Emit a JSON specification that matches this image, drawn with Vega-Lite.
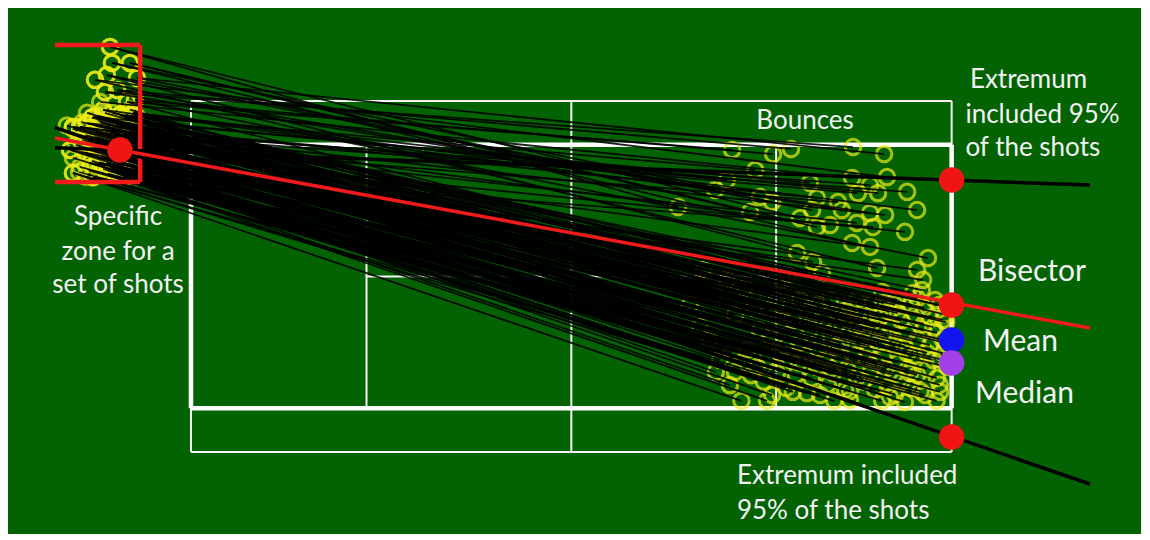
{
  "$schema": "https://vega.github.io/schema/vega-lite/v6.json",
  "width": 1150,
  "height": 540,
  "autosize": {"type": "fit", "contains": "padding"},
  "padding": 0,
  "background": "#ffffff",
  "config": {"view": {"stroke": null}},
  "datasets": {
    "bg": [{"x": -5.72, "x2": 29.69, "y": -2.56, "y2": 13.875}],
    "courtThin": [
      {"x": 0, "y": 10.97, "x2": 23.77, "y2": 10.97},
      {"x": 0, "y": 0, "x2": 23.77, "y2": 0},
      {"x": 0, "y": 0, "x2": 0, "y2": 10.97},
      {"x": 23.77, "y": 0, "x2": 23.77, "y2": 10.97},
      {"x": 11.885, "y": 0, "x2": 11.885, "y2": 10.97},
      {"x": 5.485, "y": 1.37, "x2": 5.485, "y2": 9.6},
      {"x": 18.285, "y": 1.37, "x2": 18.285, "y2": 9.6},
      {"x": 5.485, "y": 5.485, "x2": 18.285, "y2": 5.485}
    ],
    "courtThick": [
      {"x": 0, "y": 9.6, "x2": 23.77, "y2": 9.6},
      {"x": 0, "y": 1.37, "x2": 23.77, "y2": 1.37},
      {"x": 0, "y": 1.37, "x2": 0, "y2": 9.6},
      {"x": 23.77, "y": 1.37, "x2": 23.77, "y2": 9.6}
    ],
    "shots": [
      {"x0": -2.0, "y0": 10.94, "x1": 16.91, "y1": 9.44},
      {"x0": -1.75, "y0": 11.0, "x1": 18.19, "y1": 9.31},
      {"x0": -2.31, "y0": 11.31, "x1": 18.75, "y1": 9.47},
      {"x0": -2.69, "y0": 11.25, "x1": 20.69, "y1": 9.53},
      {"x0": -1.69, "y0": 11.69, "x1": 21.66, "y1": 9.31},
      {"x0": -2.22, "y0": 10.53, "x1": 17.63, "y1": 8.81},
      {"x0": -1.8, "y0": 10.6, "x1": 16.75, "y1": 8.5},
      {"x0": -2.75, "y0": 10.69, "x1": 16.38, "y1": 8.19},
      {"x0": -2.53, "y0": 12.66, "x1": 15.22, "y1": 7.66},
      {"x0": -2.47, "y0": 12.16, "x1": 17.78, "y1": 7.97},
      {"x0": -1.91, "y0": 12.16, "x1": 17.47, "y1": 7.5},
      {"x0": -2.63, "y0": 11.78, "x1": 18.16, "y1": 7.81},
      {"x0": -1.7, "y0": 10.3, "x1": 19.34, "y1": 8.41},
      {"x0": -2.84, "y0": 10.94, "x1": 20.66, "y1": 8.56},
      {"x0": -3.0, "y0": 11.63, "x1": 21.75, "y1": 8.59},
      {"x0": -2.2, "y0": 10.0, "x1": 21.22, "y1": 8.34},
      {"x0": -1.9, "y0": 9.9, "x1": 22.38, "y1": 8.13},
      {"x0": -2.63, "y0": 10.16, "x1": 20.84, "y1": 8.09},
      {"x0": -3.06, "y0": 10.47, "x1": 21.47, "y1": 8.09},
      {"x0": -3.25, "y0": 10.28, "x1": 19.56, "y1": 7.94},
      {"x0": -2.0, "y0": 9.6, "x1": 20.22, "y1": 7.81},
      {"x0": -1.69, "y0": 11.69, "x1": 19.41, "y1": 7.56},
      {"x0": -2.31, "y0": 11.31, "x1": 20.34, "y1": 7.56},
      {"x0": -2.53, "y0": 12.66, "x1": 19.03, "y1": 7.31},
      {"x0": -1.91, "y0": 12.16, "x1": 19.56, "y1": 7.03},
      {"x0": -3.47, "y0": 10.16, "x1": 19.97, "y1": 7.09},
      {"x0": -2.4, "y0": 9.7, "x1": 20.81, "y1": 7.16},
      {"x0": -2.69, "y0": 11.25, "x1": 21.22, "y1": 7.47},
      {"x0": -3.69, "y0": 10.16, "x1": 21.69, "y1": 7.41},
      {"x0": -1.8, "y0": 10.6, "x1": 22.69, "y1": 7.56},
      {"x0": -2.44, "y0": 8.81, "x1": 21.31, "y1": 7.03},
      {"x0": -2.94, "y0": 9.44, "x1": 22.31, "y1": 6.88},
      {"x0": -2.47, "y0": 12.16, "x1": 20.66, "y1": 6.53},
      {"x0": -3.38, "y0": 9.66, "x1": 21.22, "y1": 6.41},
      {"x0": -2.63, "y0": 11.78, "x1": 18.94, "y1": 6.22},
      {"x0": -1.75, "y0": 9.2, "x1": 19.44, "y1": 5.94},
      {"x0": -3.0, "y0": 11.63, "x1": 21.44, "y1": 5.75},
      {"x0": -2.13, "y0": 8.59, "x1": 19.72, "y1": 5.59},
      {"x0": -1.75, "y0": 11.0, "x1": 23.03, "y1": 6.06},
      {"x0": -2.63, "y0": 9.03, "x1": 22.69, "y1": 5.69},
      {"x0": -3.16, "y0": 9.03, "x1": 22.88, "y1": 5.38},
      {"x0": -2.0, "y0": 10.94, "x1": 18.66, "y1": 5.53},
      {"x0": -3.78, "y0": 9.44, "x1": 16.0, "y1": 5.69},
      {"x0": -2.75, "y0": 10.69, "x1": 16.75, "y1": 5.38},
      {"x0": -3.06, "y0": 8.59, "x1": 17.31, "y1": 5.13},
      {"x0": -2.22, "y0": 10.53, "x1": 18.47, "y1": 5.38},
      {"x0": -2.13, "y0": 8.59, "x1": 16.84, "y1": 2.09},
      {"x0": -1.65, "y0": 8.6, "x1": 18.16, "y1": 1.78},
      {"x0": -2.44, "y0": 8.81, "x1": 18.81, "y1": 1.88},
      {"x0": -1.8, "y0": 8.8, "x1": 19.25, "y1": 1.84},
      {"x0": -3.69, "y0": 8.72, "x1": 20.59, "y1": 1.63},
      {"x0": -2.63, "y0": 9.03, "x1": 21.84, "y1": 1.72},
      {"x0": -1.75, "y0": 9.2, "x1": 22.31, "y1": 1.56},
      {"x0": -3.06, "y0": 8.59, "x1": 21.78, "y1": 2.03},
      {"x0": -2.94, "y0": 9.44, "x1": 22.69, "y1": 2.41},
      {"x0": -2.0, "y0": 9.1, "x1": 23.31, "y1": 2.31},
      {"x0": -3.38, "y0": 9.66, "x1": 23.19, "y1": 2.88},
      {"x0": -2.4, "y0": 9.7, "x1": 23.31, "y1": 3.72},
      {"x0": -1.9, "y0": 9.9, "x1": 23.5, "y1": 4.13},
      {"x0": -2.2, "y0": 10.0, "x1": 22.88, "y1": 3.81},
      {"x0": -2.63, "y0": 9.6, "x1": 22.38, "y1": 3.72},
      {"x0": -3.25, "y0": 10.28, "x1": 22.09, "y1": 4.34},
      {"x0": -1.7, "y0": 10.3, "x1": 22.84, "y1": 5.06},
      {"x0": -3.06, "y0": 10.47, "x1": 22.56, "y1": 4.97},
      {"x0": -2.22, "y0": 10.53, "x1": 22.06, "y1": 4.75},
      {"x0": -1.8, "y0": 10.6, "x1": 21.31, "y1": 4.66},
      {"x0": -2.75, "y0": 10.4, "x1": 20.81, "y1": 4.75},
      {"x0": -2.84, "y0": 10.2, "x1": 19.97, "y1": 4.75},
      {"x0": -2.0, "y0": 10.1, "x1": 21.0, "y1": 4.22},
      {"x0": -1.75, "y0": 9.8, "x1": 21.63, "y1": 3.72},
      {"x0": -2.69, "y0": 9.9, "x1": 20.59, "y1": 3.72},
      {"x0": -2.31, "y0": 9.5, "x1": 20.19, "y1": 3.28},
      {"x0": -3.0, "y0": 9.7, "x1": 21.13, "y1": 3.09},
      {"x0": -1.69, "y0": 9.3, "x1": 21.63, "y1": 2.97},
      {"x0": -2.63, "y0": 9.4, "x1": 22.38, "y1": 3.09},
      {"x0": -2.47, "y0": 9.1, "x1": 22.47, "y1": 2.47},
      {"x0": -1.91, "y0": 9.0, "x1": 21.22, "y1": 2.47},
      {"x0": -2.53, "y0": 8.9, "x1": 20.81, "y1": 2.34},
      {"x0": -3.16, "y0": 9.03, "x1": 20.06, "y1": 2.47},
      {"x0": -3.47, "y0": 8.91, "x1": 19.56, "y1": 2.66},
      {"x0": -2.94, "y0": 9.44, "x1": 18.72, "y1": 2.88},
      {"x0": -3.69, "y0": 9.19, "x1": 18.31, "y1": 2.47},
      {"x0": -2.63, "y0": 9.03, "x1": 17.69, "y1": 2.66},
      {"x0": -3.78, "y0": 9.44, "x1": 16.53, "y1": 2.88},
      {"x0": -3.47, "y0": 10.16, "x1": 18.81, "y1": 4.13},
      {"x0": -2.63, "y0": 10.16, "x1": 19.34, "y1": 3.81},
      {"x0": -3.69, "y0": 10.16, "x1": 19.75, "y1": 4.13},
      {"x0": -3.06, "y0": 10.47, "x1": 20.5, "y1": 4.22},
      {"x0": -2.0, "y0": 10.3, "x1": 21.63, "y1": 4.66},
      {"x0": -2.22, "y0": 10.53, "x1": 23.63, "y1": 4.53},
      {"x0": -1.8, "y0": 9.5, "x1": 23.5, "y1": 3.09},
      {"x0": -2.44, "y0": 8.81, "x1": 23.63, "y1": 2.66},
      {"x0": -2.13, "y0": 9.6, "x1": 23.09, "y1": 3.34},
      {"x0": -1.65, "y0": 8.6, "x1": 22.94, "y1": 1.78},
      {"x0": -1.8, "y0": 8.8, "x1": 23.41, "y1": 1.88},
      {"x0": -2.75, "y0": 9.2, "x1": 21.97, "y1": 2.41},
      {"x0": -3.06, "y0": 8.59, "x1": 21.38, "y1": 1.94},
      {"x0": -2.31, "y0": 8.7, "x1": 20.44, "y1": 1.94},
      {"x0": -2.63, "y0": 8.65, "x1": 19.66, "y1": 1.78},
      {"x0": -2.0, "y0": 9.8, "x1": 20.91, "y1": 3.5},
      {"x0": -1.75, "y0": 9.6, "x1": 22.0, "y1": 3.34},
      {"x0": -2.84, "y0": 10.3, "x1": 22.63, "y1": 4.28},
      {"x0": -1.7, "y0": 10.5, "x1": 23.25, "y1": 4.75},
      {"x0": -1.9, "y0": 10.0, "x1": 21.53, "y1": 4.22},
      {"x0": -2.2, "y0": 9.3, "x1": 20.28, "y1": 2.88},
      {"x0": -3.0, "y0": 10.0, "x1": 17.78, "y1": 3.81},
      {"x0": -2.47, "y0": 10.4, "x1": 17.0, "y1": 4.28},
      {"x0": -2.69, "y0": 10.6, "x1": 18.09, "y1": 4.44},
      {"x0": -1.91, "y0": 10.7, "x1": 19.03, "y1": 4.75},
      {"x0": -3.88, "y0": 10.2, "x1": 15.59, "y1": 4.59},
      {"x0": -3.25, "y0": 10.6, "x1": 16.38, "y1": 4.91},
      {"x0": -2.31, "y0": 10.1, "x1": 23.6, "y1": 4.05},
      {"x0": -3.69, "y0": 8.72, "x1": 17.2, "y1": 1.6},
      {"x0": -2.5, "y0": 10.0, "x1": 22.2, "y1": 4.1},
      {"x0": -1.8, "y0": 9.9, "x1": 21.9, "y1": 3.9},
      {"x0": -2.9, "y0": 9.8, "x1": 22.7, "y1": 3.5},
      {"x0": -2.1, "y0": 9.2, "x1": 23.0, "y1": 2.6},
      {"x0": -3.3, "y0": 9.3, "x1": 22.1, "y1": 2.8},
      {"x0": -2.4, "y0": 9.6, "x1": 21.5, "y1": 3.4},
      {"x0": -1.9, "y0": 9.4, "x1": 20.7, "y1": 3.0},
      {"x0": -3.1, "y0": 9.8, "x1": 20.0, "y1": 3.6},
      {"x0": -2.2, "y0": 9.5, "x1": 19.6, "y1": 3.2},
      {"x0": -2.8, "y0": 9.7, "x1": 19.0, "y1": 3.4},
      {"x0": -3.4, "y0": 9.5, "x1": 18.4, "y1": 3.1},
      {"x0": -2.6, "y0": 8.8, "x1": 17.9, "y1": 2.2},
      {"x0": -2.0, "y0": 8.75, "x1": 18.6, "y1": 2.0},
      {"x0": -1.7, "y0": 8.9, "x1": 19.9, "y1": 2.1},
      {"x0": -3.2, "y0": 8.8, "x1": 21.0, "y1": 2.2},
      {"x0": -2.3, "y0": 8.95, "x1": 22.5, "y1": 2.0},
      {"x0": -2.9, "y0": 9.05, "x1": 23.4, "y1": 2.1},
      {"x0": -3.5, "y0": 9.9, "x1": 23.5, "y1": 3.5},
      {"x0": -2.0, "y0": 10.4, "x1": 22.9, "y1": 4.5},
      {"x0": -3.0, "y0": 10.2, "x1": 21.2, "y1": 4.1},
      {"x0": -1.8, "y0": 10.1, "x1": 20.2, "y1": 4.0},
      {"x0": -2.6, "y0": 10.4, "x1": 19.3, "y1": 4.4},
      {"x0": -2.2, "y0": 9.9, "x1": 18.1, "y1": 3.6},
      {"x0": -3.6, "y0": 9.6, "x1": 17.4, "y1": 3.2},
      {"x0": -2.9, "y0": 9.7, "x1": 16.2, "y1": 3.5},
      {"x0": -3.0, "y0": 9.0, "x1": 17.0, "y1": 2.5},
      {"x0": -2.5, "y0": 9.15, "x1": 20.5, "y1": 2.6},
      {"x0": -1.8, "y0": 9.2, "x1": 21.7, "y1": 2.6},
      {"x0": -2.7, "y0": 9.55, "x1": 22.3, "y1": 3.3},
      {"x0": -2.4, "y0": 9.95, "x1": 23.2, "y1": 3.9},
      {"x0": -3.3, "y0": 9.9, "x1": 21.0, "y1": 3.8},
      {"x0": -2.0, "y0": 9.35, "x1": 19.8, "y1": 2.9},
      {"x0": -3.1, "y0": 9.1, "x1": 18.9, "y1": 2.4},
      {"x0": -2.6, "y0": 8.7, "x1": 22.8, "y1": 1.9},
      {"x0": -2.0, "y0": 8.6, "x1": 21.6, "y1": 1.6},
      {"x0": -3.3, "y0": 8.6, "x1": 20.1, "y1": 1.6},
      {"x0": -2.9, "y0": 10.5, "x1": 22.0, "y1": 4.6},
      {"x0": -3.4, "y0": 10.3, "x1": 23.4, "y1": 4.6},
      {"x0": -2.1, "y0": 10.45, "x1": 20.6, "y1": 4.5},
      {"x0": -3.7, "y0": 10.1, "x1": 18.5, "y1": 4.1},
      {"x0": -2.3, "y0": 10.3, "x1": 23.55, "y1": 4.3},
      {"x0": -1.9, "y0": 10.15, "x1": 23.1, "y1": 4.2},
      {"x0": -2.6, "y0": 10.35, "x1": 22.5, "y1": 4.6},
      {"x0": -3.2, "y0": 10.1, "x1": 21.8, "y1": 4.4},
      {"x0": -2.1, "y0": 9.95, "x1": 21.4, "y1": 3.9},
      {"x0": -2.7, "y0": 10.05, "x1": 20.9, "y1": 4.0},
      {"x0": -1.85, "y0": 9.6, "x1": 20.3, "y1": 3.4},
      {"x0": -3.0, "y0": 9.85, "x1": 19.9, "y1": 3.9},
      {"x0": -2.4, "y0": 9.3, "x1": 19.2, "y1": 3.0},
      {"x0": -1.9, "y0": 9.55, "x1": 18.6, "y1": 3.3},
      {"x0": -2.8, "y0": 9.25, "x1": 18.0, "y1": 2.9},
      {"x0": -2.2, "y0": 8.9, "x1": 17.5, "y1": 2.4},
      {"x0": -3.3, "y0": 9.35, "x1": 16.9, "y1": 3.1},
      {"x0": -2.5, "y0": 8.95, "x1": 16.4, "y1": 2.5},
      {"x0": -2.0, "y0": 9.8, "x1": 15.9, "y1": 3.9},
      {"x0": -2.2, "y0": 9.45, "x1": 22.6, "y1": 3.0},
      {"x0": -3.0, "y0": 9.5, "x1": 23.0, "y1": 3.1},
      {"x0": -1.75, "y0": 9.65, "x1": 23.6, "y1": 3.4},
      {"x0": -2.45, "y0": 8.85, "x1": 22.2, "y1": 2.2},
      {"x0": -2.9, "y0": 9.2, "x1": 21.4, "y1": 2.8},
      {"x0": -1.95, "y0": 8.7, "x1": 20.6, "y1": 1.9},
      {"x0": -2.75, "y0": 8.85, "x1": 19.4, "y1": 2.3},
      {"x0": -2.35, "y0": 8.6, "x1": 18.0, "y1": 1.6},
      {"x0": -2.15, "y0": 8.65, "x1": 23.3, "y1": 1.6},
      {"x0": -3.5, "y0": 8.75, "x1": 22.0, "y1": 1.8},
      {"x0": -2.05, "y0": 9.25, "x1": 21.1, "y1": 2.9},
      {"x0": -2.85, "y0": 9.05, "x1": 20.0, "y1": 2.6},
      {"x0": -1.8, "y0": 9.15, "x1": 19.0, "y1": 2.8},
      {"x0": -3.4, "y0": 9.75, "x1": 21.8, "y1": 3.6},
      {"x0": -2.55, "y0": 9.95, "x1": 22.9, "y1": 4.0},
      {"x0": -2.35, "y0": 10.25, "x1": 20.4, "y1": 4.4},
      {"x0": -3.1, "y0": 10.45, "x1": 19.6, "y1": 4.6},
      {"x0": -2.05, "y0": 10.55, "x1": 18.3, "y1": 4.7},
      {"x0": -2.9, "y0": 10.35, "x1": 17.6, "y1": 4.5},
      {"x0": -2.65, "y0": 9.3, "x1": 23.4, "y1": 2.9},
      {"x0": -1.7, "y0": 9.05, "x1": 22.4, "y1": 2.6},
      {"x0": -2.55, "y0": 9.55, "x1": 21.2, "y1": 3.3},
      {"x0": -1.95, "y0": 9.75, "x1": 20.8, "y1": 3.9},
      {"x0": -2.45, "y0": 10.6, "x1": 22.7, "y1": 4.8},
      {"x0": -1.85, "y0": 10.55, "x1": 21.6, "y1": 5.0}
    ],
    "zone": [
      {"x": -4.25, "y": 12.72, "x2": -1.59, "y2": 12.72},
      {"x": -1.59, "y": 12.72, "x2": -1.59, "y2": 8.44},
      {"x": -4.25, "y": 8.44, "x2": -1.59, "y2": 8.44}
    ],
    "extremes": [
      {"x": -4.25, "y": 9.51, "x2": 28.09, "y2": 8.34},
      {"x": -4.25, "y": 10.14, "x2": 28.09, "y2": -1.0}
    ],
    "bisector": [
      {"x": -4.25, "y": 9.81, "x2": 28.09, "y2": 3.875}
    ],
    "stats": [
      {"x": -2.22, "y": 9.44, "stat": "Origin"},
      {"x": 23.77, "y": 8.5, "stat": "Upper extremum"},
      {"x": 23.77, "y": 4.59, "stat": "Bisector"},
      {"x": 23.77, "y": 0.47, "stat": "Lower extremum"},
      {"x": 23.77, "y": 3.5, "stat": "Mean"},
      {"x": 23.77, "y": 2.78, "stat": "Median"}
    ],
    "labelsLeft": [
      {"x": 24.34, "y": 11.625, "text": "Extremum"},
      {"x": 24.2, "y": 10.53, "text": "included 95%"},
      {"x": 24.2, "y": 9.5, "text": "of the shots"},
      {"x": 17.06, "y": -0.75, "text": "Extremum included"},
      {"x": 17.06, "y": -1.84, "text": "95% of the shots"}
    ],
    "labelsBig": [
      {"x": 24.59, "y": 5.625, "text": "Bisector"},
      {"x": 24.75, "y": 3.44, "text": "Mean"},
      {"x": 24.5, "y": 1.81, "text": "Median"}
    ],
    "labelsCenter": [
      {"x": 19.19, "y": 10.34, "text": "Bounces"},
      {"x": -2.28, "y": 7.34, "text": "Specific"},
      {"x": -2.28, "y": 6.25, "text": "zone for a"},
      {"x": -2.28, "y": 5.22, "text": "set of shots"}
    ]
  },
  "layer": [
    {
      "data": {"name": "bg"},
      "mark": {"type": "rect", "color": "#036303"},
      "encoding": {
        "x": {"field": "x", "type": "quantitative", "scale": {"domain": [-5.96875, 29.96875], "nice": false, "zero": false}, "axis": null},
        "x2": {"field": "x2"},
        "y": {"field": "y", "type": "quantitative", "scale": {"domain": [-2.75, 14.125], "nice": false, "zero": false}, "axis": null},
        "y2": {"field": "y2"}
      }
    },
    {
      "data": {"name": "courtThin"},
      "mark": {"type": "rule", "color": "#f4f4f4", "strokeWidth": 2},
      "encoding": {
        "x": {"field": "x", "type": "quantitative"},
        "x2": {"field": "x2"},
        "y": {"field": "y", "type": "quantitative"},
        "y2": {"field": "y2"}
      }
    },
    {
      "data": {"name": "courtThick"},
      "mark": {"type": "rule", "color": "#ffffff", "strokeWidth": 4.5},
      "encoding": {
        "x": {"field": "x", "type": "quantitative"},
        "x2": {"field": "x2"},
        "y": {"field": "y", "type": "quantitative"},
        "y2": {"field": "y2"}
      }
    },
    {
      "data": {"name": "shots"},
      "mark": {"type": "point", "shape": "circle", "filled": false, "stroke": "#ecec18", "strokeWidth": 3, "size": 240},
      "encoding": {
        "x": {"field": "x1", "type": "quantitative"},
        "y": {"field": "y1", "type": "quantitative"}
      }
    },
    {
      "data": {"name": "shots"},
      "mark": {"type": "point", "shape": "circle", "filled": false, "stroke": "#ecec18", "strokeWidth": 3, "size": 240},
      "encoding": {
        "x": {"field": "x0", "type": "quantitative"},
        "y": {"field": "y0", "type": "quantitative"}
      }
    },
    {
      "data": {"name": "shots"},
      "mark": {"type": "rule", "color": "#000000", "strokeWidth": 1.8, "opacity": 0.88},
      "encoding": {
        "x": {"field": "x0", "type": "quantitative"},
        "y": {"field": "y0", "type": "quantitative"},
        "x2": {"field": "x1"},
        "y2": {"field": "y1"}
      }
    },
    {
      "data": {"name": "zone"},
      "mark": {"type": "rule", "color": "#f21a1a", "strokeWidth": 4.5},
      "encoding": {
        "x": {"field": "x", "type": "quantitative"},
        "x2": {"field": "x2"},
        "y": {"field": "y", "type": "quantitative"},
        "y2": {"field": "y2"}
      }
    },
    {
      "data": {"name": "extremes"},
      "mark": {"type": "rule", "color": "#000000", "strokeWidth": 3.5},
      "encoding": {
        "x": {"field": "x", "type": "quantitative"},
        "x2": {"field": "x2"},
        "y": {"field": "y", "type": "quantitative"},
        "y2": {"field": "y2"}
      }
    },
    {
      "data": {"name": "bisector"},
      "mark": {"type": "rule", "color": "#f21a1a", "strokeWidth": 3.5},
      "encoding": {
        "x": {"field": "x", "type": "quantitative"},
        "x2": {"field": "x2"},
        "y": {"field": "y", "type": "quantitative"},
        "y2": {"field": "y2"}
      }
    },
    {
      "data": {"name": "stats"},
      "mark": {"type": "circle", "size": 650, "opacity": 1},
      "encoding": {
        "x": {"field": "x", "type": "quantitative"},
        "y": {"field": "y", "type": "quantitative"},
        "color": {
          "field": "stat", "type": "nominal", "legend": null,
          "scale": {"domain": ["Origin", "Upper extremum", "Bisector", "Lower extremum", "Mean", "Median"], "range": ["#f01414", "#f01414", "#f01414", "#f01414", "#1414f0", "#a040e6"]}
        }
      }
    },
    {
      "data": {"name": "labelsLeft"},
      "mark": {"type": "text", "align": "left", "baseline": "middle", "font": "Lato", "fontSize": 26, "color": "#f2f2f2"},
      "encoding": {
        "x": {"field": "x", "type": "quantitative"},
        "y": {"field": "y", "type": "quantitative"},
        "text": {"field": "text"}
      }
    },
    {
      "data": {"name": "labelsBig"},
      "mark": {"type": "text", "align": "left", "baseline": "middle", "font": "Lato", "fontSize": 30, "color": "#f2f2f2"},
      "encoding": {
        "x": {"field": "x", "type": "quantitative"},
        "y": {"field": "y", "type": "quantitative"},
        "text": {"field": "text"}
      }
    },
    {
      "data": {"name": "labelsCenter"},
      "mark": {"type": "text", "align": "center", "baseline": "middle", "font": "Lato", "fontSize": 26, "color": "#f2f2f2"},
      "encoding": {
        "x": {"field": "x", "type": "quantitative"},
        "y": {"field": "y", "type": "quantitative"},
        "text": {"field": "text"}
      }
    }
  ]
}
